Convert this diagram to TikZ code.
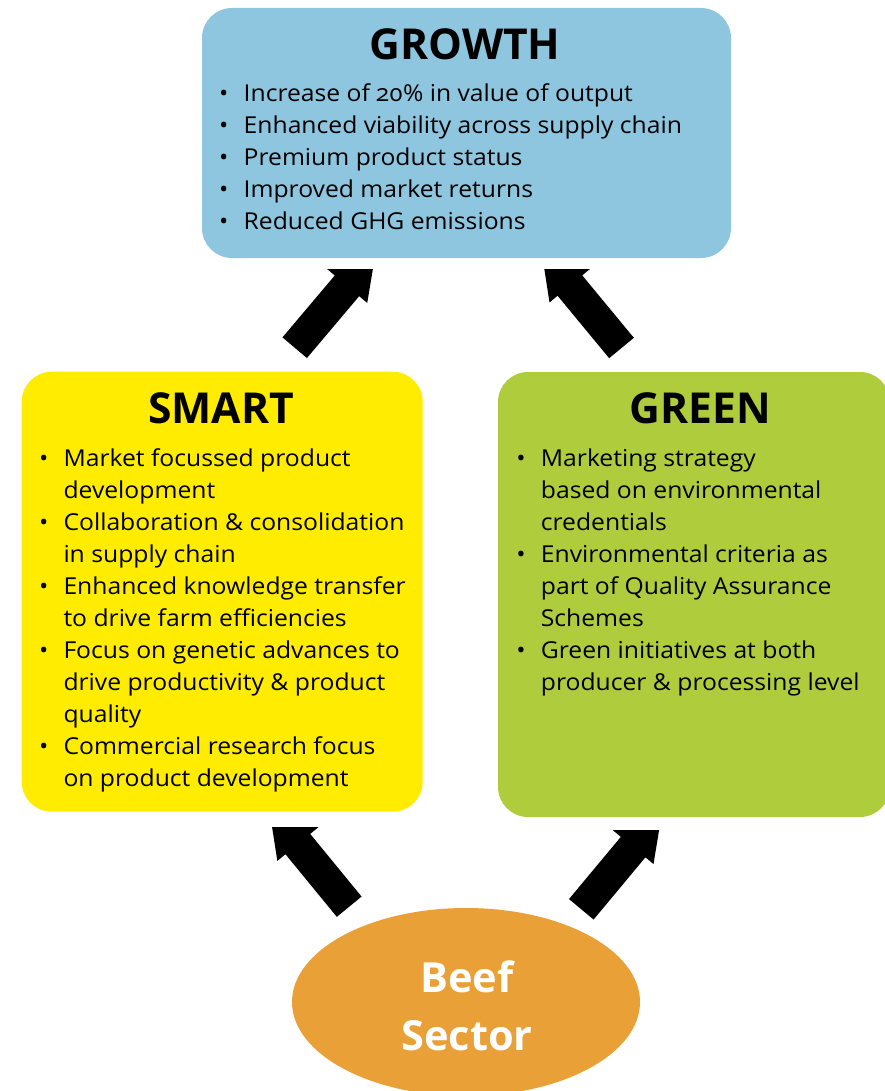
\documentclass[tikz,border=0pt]{standalone}
\usepackage{fontspec}
\setmainfont{Open Sans}[Numbers=OldStyle]
\newfontfamily\bodyfont{Open Sans}[Numbers=OldStyle, FakeStretch=1.06]
\usetikzlibrary{calc,shapes.geometric}
\definecolor{growthblue}{HTML}{8EC6E0}
\definecolor{smartyellow}{HTML}{FFEC00}
\definecolor{greengreen}{HTML}{AECC3C}
\definecolor{beeforange}{HTML}{E8A037}
\newcommand\bigblockarrow[2]{%
  \coordinate (bm) at ($(#1)!81pt!(#2)$);
  \fill[black] ($(#1)!16pt!90:(#2)$) -- ($(bm)!16pt!90:(#2)$) -- ($(bm)!26.5pt!90:(#2)$) -- (#2)
    -- ($(bm)!26.5pt!-90:(#2)$) -- ($(bm)!16pt!-90:(#2)$) -- ($(#1)!16pt!-90:(#2)$) -- cycle;}
\newcommand\bodyrows[1]{\begin{tabular}[t]{@{}p{24.5pt}@{}l@{}}#1\end{tabular}}
\tikzset{
  box/.style={rectangle, rounded corners=30pt, inner sep=0pt, draw=none},
  titletext/.style={font=\fontsize{42.6}{50}\selectfont\bfseries, anchor=base, inner sep=0pt},
  bodytext/.style={font=\bodyfont\fontsize{23.3}{32}\selectfont, anchor=base west, inner sep=0pt},
  beeftext/.style={font=\fontsize{41.5}{57}\selectfont\bfseries, text=white, align=center, inner sep=0pt},
}
\begin{document}
\begin{tikzpicture}[x=1pt,y=-1pt]
\useasboundingbox (0,0) rectangle (884,1091);
% boxes
\node[box, fill=growthblue, minimum width=529pt, minimum height=250pt] (growth) at (466.5,133) {};
\node[box, fill=smartyellow, minimum width=401pt, minimum height=440pt] (smart) at (222.2,591.7) {};
\node[box, fill=greengreen, minimum width=392pt, minimum height=445pt] (green) at (694,594.5) {};
\node[ellipse, fill=beeforange, minimum width=348pt, minimum height=188pt, inner sep=0pt] (beef) at (466,1002) {};
% titles
\node[titletext] (growthtitle) at (465,59.3) {GROWTH};
\node[titletext] (smarttitle) at (221,423.3) {SMART};
\node[titletext] (greentitle) at (700,423) {GREEN};
\node[beeftext, anchor=base] (beefline1) at (467,992.7) {Beef};
\node[beeftext, anchor=base] (beefline2) at (467,1050) {Sector};
% bodies
\node[bodytext] (growthbody) at (219,101.5) {\bodyrows{%
• & Increase of 20\% in value of output\\
• & Enhanced viability across supply chain\\
• & Premium product status\\
• & Improved market returns\\
• & Reduced GHG emissions}};
\node[bodytext] (smartbody) at (38.8,466) {\bodyrows{%
• & Market focussed product\\
  & development\\
• & Collaboration \& consolidation\\
  & in supply chain\\
• & Enhanced knowledge transfer\\
  & to drive farm efficiencies\\
• & Focus on genetic advances to\\
  & drive productivity \& product\\
  & quality\\
• & Commercial research focus\\
  & on product development}};
\node[bodytext] (greenbody) at (516.2,466) {\bodyrows{%
• & Marketing strategy\\
  & based on environmental\\
  & credentials\\
• & Environmental criteria as\\
  & part of Quality Assurance\\
  & Schemes\\
• & Green initiatives at both\\
  & producer \& processing level}};
% arrow end points
\coordinate (ul-tail) at (294.7,347.7);
\coordinate (ul-tip) at (375.8,251.7);
\coordinate (ur-tail) at (621.5,348);
\coordinate (ur-tip) at (541.6,251.3);
\coordinate (ll-tail) at (349.2,906.7);
\coordinate (ll-tip) at (269.3,809.3);
\coordinate (lr-tail) at (581.3,909.3);
\coordinate (lr-tip) at (662,812.4);
% arrows
\begin{scope}
  \clip (0,269) rectangle (884,400);
  \bigblockarrow{ul-tail}{ul-tip}
  \bigblockarrow{ur-tail}{ur-tip}
\end{scope}
\begin{scope}
  \clip (0,827.7) rectangle (460,1000);
  \bigblockarrow{ll-tail}{ll-tip}
\end{scope}
\begin{scope}
  \clip (460,830.7) rectangle (884,1000);
  \bigblockarrow{lr-tail}{lr-tip}
\end{scope}
\end{tikzpicture}
\end{document}
